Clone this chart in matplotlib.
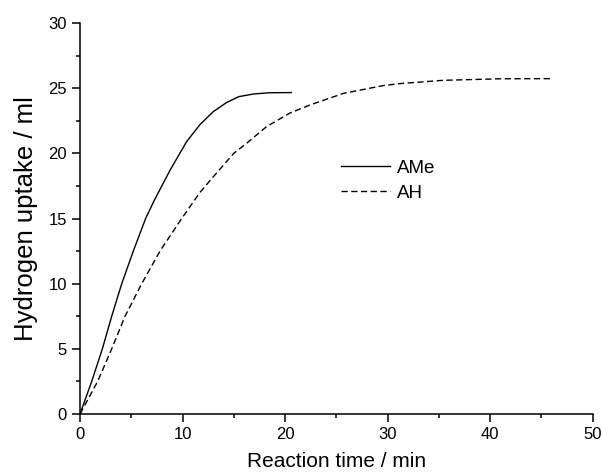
import matplotlib
matplotlib.use("Agg")
import matplotlib.pyplot as plt
from matplotlib.ticker import MultipleLocator

plt.rcParams['font.family'] = ['Liberation Sans', 'DejaVu Sans']

# Data
ame_time = [0, 1.14, 2.18, 3.09, 4.07, 5.2, 6.4, 7.25, 8.78, 10.4, 11.7, 13.0, 14.3, 15.5, 16.9, 18.5, 20.6]
ame_h2 = [0, 2.5, 5, 7.5, 10, 12.5, 15, 16.4, 18.7, 20.9, 22.2, 23.2, 23.9, 24.35, 24.55, 24.65, 24.66]

ah_time = [0, 1.72, 3.09, 4.39, 6.02, 7.8, 9.92, 11.7, 13.0, 15.0, 16.3, 18.2, 20.5, 22.4, 25.7, 29.6, 31.2, 35.4, 41.0, 45.85]
ah_h2 = [0, 2.5, 5, 7.5, 10, 12.5, 15, 17.0, 18.2, 20.0, 20.8, 22.05, 23.1, 23.7, 24.6, 25.2, 25.35, 25.6, 25.72, 25.73]

fig = plt.figure(figsize=(6.03, 4.73), dpi=100)
ax = fig.add_axes([0.1327, 0.1247, 0.8499, 0.8267])

ax.plot(ame_time, ame_h2, color="black", linewidth=1.0, label="AMe")
ax.plot(ah_time, ah_h2, color="black", linewidth=1.0, linestyle=(0, (4.5, 2.5)), label="AH")

ax.set_xlim(0, 50)
ax.set_ylim(0, 30)
ax.xaxis.set_major_locator(MultipleLocator(10))
ax.xaxis.set_minor_locator(MultipleLocator(5))
ax.yaxis.set_major_locator(MultipleLocator(5))
ax.yaxis.set_minor_locator(MultipleLocator(2.5))

# Formatting
for side in ["top", "right"]:
    ax.spines[side].set_visible(False)
for side in ["left", "bottom"]:
    ax.spines[side].set_linewidth(1.1)
ax.tick_params(which="major", direction="out", length=5.8, width=1.1, labelsize=12, pad=3.5)
ax.tick_params(which="minor", direction="out", length=2.9, width=1.1)

ax.set_xlabel("Reaction time / min", fontsize=15, labelpad=7.5)
ax.set_ylabel("Hydrogen uptake / ml", fontsize=18.5, labelpad=7.5)

ax.legend(loc="center left", bbox_to_anchor=(0.509, 0.597), frameon=False,
          fontsize=13.5, handlelength=2.6, handletextpad=0.38,
          labelspacing=0.42, borderpad=0, borderaxespad=0)

plt.savefig("out.png", dpi=100)
